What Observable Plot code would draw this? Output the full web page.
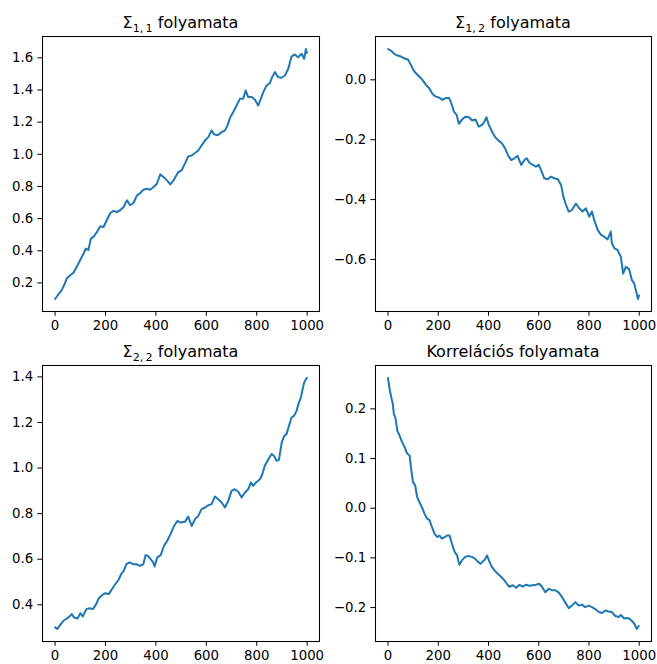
<!DOCTYPE html>
<html>
<head>
<meta charset="utf-8">
<script src="https://cdn.jsdelivr.net/npm/d3@7"></script>
<script src="https://cdn.jsdelivr.net/npm/@observablehq/plot@0.6"></script>
<style>
  html, body { margin: 0; padding: 0; background: #fff; }
  #wrap { position: relative; width: 657px; height: 664px; background: #fff; }
  #wrap svg { position: absolute; overflow: visible; }
</style>
</head>
<body>
<div id="wrap"></div>
<script>
// ---- data: [step, value] ----
const sigma11 = [[0,0.10],[13,0.128],[26,0.155],[37,0.19],[46,0.227],[60,0.248],[73,0.263],[86,0.30],[99,0.341],[113,0.383],
  [122,0.414],[132,0.403],[142,0.476],[152,0.486],[166,0.517],[179,0.552],[192,0.548],[205,0.59],[219,0.635],[232,0.648],
  [245,0.641],[258,0.652],[272,0.672],[285,0.714],[298,0.683],[311,0.697],[325,0.745],[338,0.759],[351,0.78],[364,0.786],
  [377,0.78],[391,0.797],[404,0.817],[417,0.875],[430,0.859],[444,0.838],[457,0.813],[470,0.838],
  [489,0.89],[502,0.9],[515,0.942],[528,0.987],[542,0.993],[555,1.008],[568,1.024],[581,1.055],[595,1.087],[608,1.107],
  [621,1.149],[631,1.124],[645,1.118],[661,1.138],[674,1.149],[684,1.18],[694,1.227],[707,1.263],[720,1.304],[733,1.345],
  [746,1.345],[756,1.397],[766,1.356],[780,1.356],[793,1.339],[806,1.304],[816,1.345],[826,1.387],[839,1.428],[852,1.443],
  [861,1.48],[872,1.511],[885,1.48],[898,1.476],[912,1.49],[925,1.532],[938,1.608],[951,1.621],[964,1.604],[978,1.625],
  [988,1.594],[995,1.655],[999,1.63]];

const sigma12 = [[0,0.103],[12,0.097],[25,0.087],[38,0.081],[51,0.078],[64,0.072],[80,0.067],[91,0.05],[102,0.031],[111,0.022],
  [124,0.011],[137,0.0],[151,-0.017],[164,-0.028],[177,-0.047],[190,-0.056],[203,-0.059],[216,-0.067],[229,-0.061],[243,-0.061],
  [252,-0.078],[262,-0.106],[273,-0.117],[282,-0.147],[295,-0.132],[308,-0.123],[322,-0.125],[335,-0.136],[348,-0.132],[361,-0.156],
  [375,-0.15],[384,-0.139],[392,-0.125],[401,-0.15],[414,-0.173],[427,-0.192],[440,-0.203],[453,-0.212],[466,-0.229],
  [477,-0.251],[490,-0.268],[503,-0.262],[516,-0.254],[530,-0.284],[543,-0.268],[552,-0.262],[563,-0.277],[576,-0.284],[589,-0.29],
  [600,-0.284],[609,-0.301],[622,-0.329],[636,-0.332],[649,-0.323],[662,-0.329],[676,-0.332],[689,-0.351],[698,-0.39],[709,-0.418],
  [719,-0.44],[732,-0.435],[748,-0.413],[761,-0.429],[775,-0.44],[788,-0.429],[801,-0.457],[812,-0.44],[821,-0.468],[835,-0.502],
  [848,-0.518],[861,-0.524],[874,-0.533],[887,-0.507],[891,-0.546],[902,-0.563],[914,-0.569],[927,-0.591],[936,-0.647],[947,-0.624],
  [960,-0.633],[971,-0.669],[980,-0.68],[990,-0.714],[995,-0.732],[999,-0.72]];

const sigma22 = [[0,0.301],[9,0.294],[20,0.311],[33,0.33],[47,0.34],[60,0.352],[66,0.359],[76,0.344],[89,0.34],[100,0.363],
  [110,0.349],[124,0.381],[137,0.385],[150,0.381],[163,0.403],[173,0.428],[186,0.442],[199,0.451],[213,0.447],[226,0.469],
  [239,0.491],[252,0.51],[262,0.535],[272,0.549],[283,0.578],[296,0.586],[310,0.578],[323,0.578],[336,0.571],[350,0.578],
  [359,0.618],[368,0.615],[379,0.6],[389,0.586],[395,0.568],[405,0.608],[419,0.618],[432,0.659],[445,0.681],[458,0.71],
  [472,0.746],[485,0.768],[498,0.761],[515,0.764],[528,0.787],[542,0.746],[555,0.776],[568,0.79],[581,0.82],[595,0.827],
  [608,0.837],[621,0.842],[634,0.875],[647,0.863],[661,0.849],[674,0.827],[687,0.856],[700,0.9],[713,0.907],[727,0.896],
  [740,0.871],[753,0.893],[766,0.907],[777,0.937],[786,0.922],[799,0.939],[813,0.951],[822,0.973],[832,1.01],[846,1.039],
  [859,1.061],[868,1.054],[879,1.032],[888,1.036],[899,1.112],[909,1.141],[918,1.149],[927,1.182],[938,1.222],[948,1.229],
  [958,1.251],[967,1.287],[975,1.309],[982,1.346],[988,1.375],[995,1.39],[999,1.395]];

const correlation = [[0,0.262],[6,0.24],[13,0.223],[19,0.21],[23,0.19],[29,0.183],[37,0.156],[46,0.146],[55,0.134],[66,0.123],
  [76,0.11],[86,0.106],[92,0.079],[99,0.053],[108,0.046],[116,0.022],[125,0.012],[135,0.002],[145,-0.011],[156,-0.021],
  [165,-0.024],[175,-0.038],[185,-0.051],[196,-0.058],[205,-0.055],[214,-0.061],[225,-0.058],[235,-0.055],[245,-0.055],[254,-0.071],
  [265,-0.088],[275,-0.095],[284,-0.114],[294,-0.105],[307,-0.098],[320,-0.096],[334,-0.098],[347,-0.102],[357,-0.107],[368,-0.112],
  [377,-0.107],[386,-0.103],[394,-0.095],[404,-0.108],[413,-0.118],[424,-0.125],[437,-0.132],[450,-0.138],[463,-0.145],[477,-0.155],
  [483,-0.158],[497,-0.155],[510,-0.16],[523,-0.154],[536,-0.158],[550,-0.154],[563,-0.156],[576,-0.155],[589,-0.154],[602,-0.152],
  [613,-0.158],[626,-0.169],[640,-0.162],[653,-0.165],[666,-0.165],[680,-0.17],[693,-0.179],[706,-0.19],[719,-0.201],[732,-0.196],
  [746,-0.189],[759,-0.196],[772,-0.194],[785,-0.199],[799,-0.196],[812,-0.199],[825,-0.203],[839,-0.209],[852,-0.211],[865,-0.206],
  [878,-0.208],[891,-0.209],[905,-0.217],[918,-0.219],[927,-0.215],[940,-0.222],[950,-0.221],[960,-0.222],[971,-0.227],[980,-0.232],
  [990,-0.243],[998,-0.237]];

const xTicks = [0, 200, 400, 600, 800, 1000];
const yTicks11 = [0.2, 0.4, 0.6, 0.8, 1.0, 1.2, 1.4, 1.6];
const yTicks12 = [-0.6, -0.4, -0.2, 0.0];
const yTicks22 = [0.4, 0.6, 0.8, 1.0, 1.2, 1.4];
const yTicksCorr = [-0.2, -0.1, 0.0, 0.1, 0.2];

const titles = [
  {sym: "\u03A3", sub: "1,\u20091", rest: " folyamata"},
  {sym: "\u03A3", sub: "1,\u20092", rest: " folyamata"},
  {sym: "\u03A3", sub: "2,\u20092", rest: " folyamata"},
  {sym: "", sub: "", rest: "Korrelációs folyamata"}
];

const lineColor = "#1f77b4";
const ns = "http://www.w3.org/2000/svg";

function padded(arr) {
  const [a, b] = d3.extent(arr);
  const m = (b - a) * 0.05;
  return [a - m, b + m];
}

function panel(data, yTicks, title, box) {
  const xs = data.map(d => d[0]);
  const ys = data.map(d => d[1]);
  const xd = padded([0, 999]);
  const svg = Plot.plot({
    width: box.w, height: box.h,
    marginLeft: box.ml, marginRight: box.mr, marginTop: box.mt, marginBottom: box.mb,
    style: {fontFamily: "'DejaVu Sans', sans-serif", fontSize: "13.3px", color: "#000", background: "transparent", overflow: "visible"},
    x: {domain: xd, ticks: xTicks, tickFormat: d3.format("d"), tickSize: 4.7, tickPadding: 4.2, label: null},
    y: {domain: padded(ys), ticks: yTicks, tickFormat: d3.format(".1f"), tickSize: 4.7, tickPadding: 4.7, label: null},
    marks: [
      Plot.line(data, {x: d => d[0], y: d => d[1], stroke: lineColor, strokeWidth: 2, strokeLinejoin: "round"}),
      Plot.frame({stroke: "#000", strokeWidth: 1.05})
    ]
  });
  svg.style.left = box.x + "px";
  svg.style.top = box.y + "px";
  // title
  const t = document.createElementNS(ns, "text");
  t.setAttribute("x", box.ml + (box.w - box.ml - box.mr) / 2);
  t.setAttribute("y", box.mt - 8);
  t.setAttribute("text-anchor", "middle");
  t.setAttribute("font-size", "16");
  t.setAttribute("fill", "#000");
  if (title.sym) {
    const s = document.createElementNS(ns, "tspan"); s.textContent = title.sym; t.appendChild(s);
    const sb = document.createElementNS(ns, "tspan"); sb.textContent = title.sub;
    sb.setAttribute("font-size", "11.2"); sb.setAttribute("dy", "3.6"); t.appendChild(sb);
    const r = document.createElementNS(ns, "tspan"); r.textContent = title.rest;
    r.setAttribute("dy", "-3.6"); t.appendChild(r);
  } else {
    t.textContent = title.rest;
  }
  svg.appendChild(t);
  document.getElementById("wrap").appendChild(svg);
}

panel(sigma11, yTicks11, titles[0], {x: 0, y: 0, w: 328, h: 332, ml: 42, mr: 9, mt: 36, mb: 21});
panel(sigma12, yTicks12, titles[1], {x: 328, y: 0, w: 329, h: 332, ml: 47, mr: 6, mt: 36, mb: 21});
panel(sigma22, yTicks22, titles[2], {x: 0, y: 332, w: 328, h: 332, ml: 42, mr: 9, mt: 33, mb: 23});
panel(correlation, yTicksCorr, titles[3], {x: 328, y: 332, w: 329, h: 332, ml: 47, mr: 6, mt: 33, mb: 23});
</script>
</body>
</html>
